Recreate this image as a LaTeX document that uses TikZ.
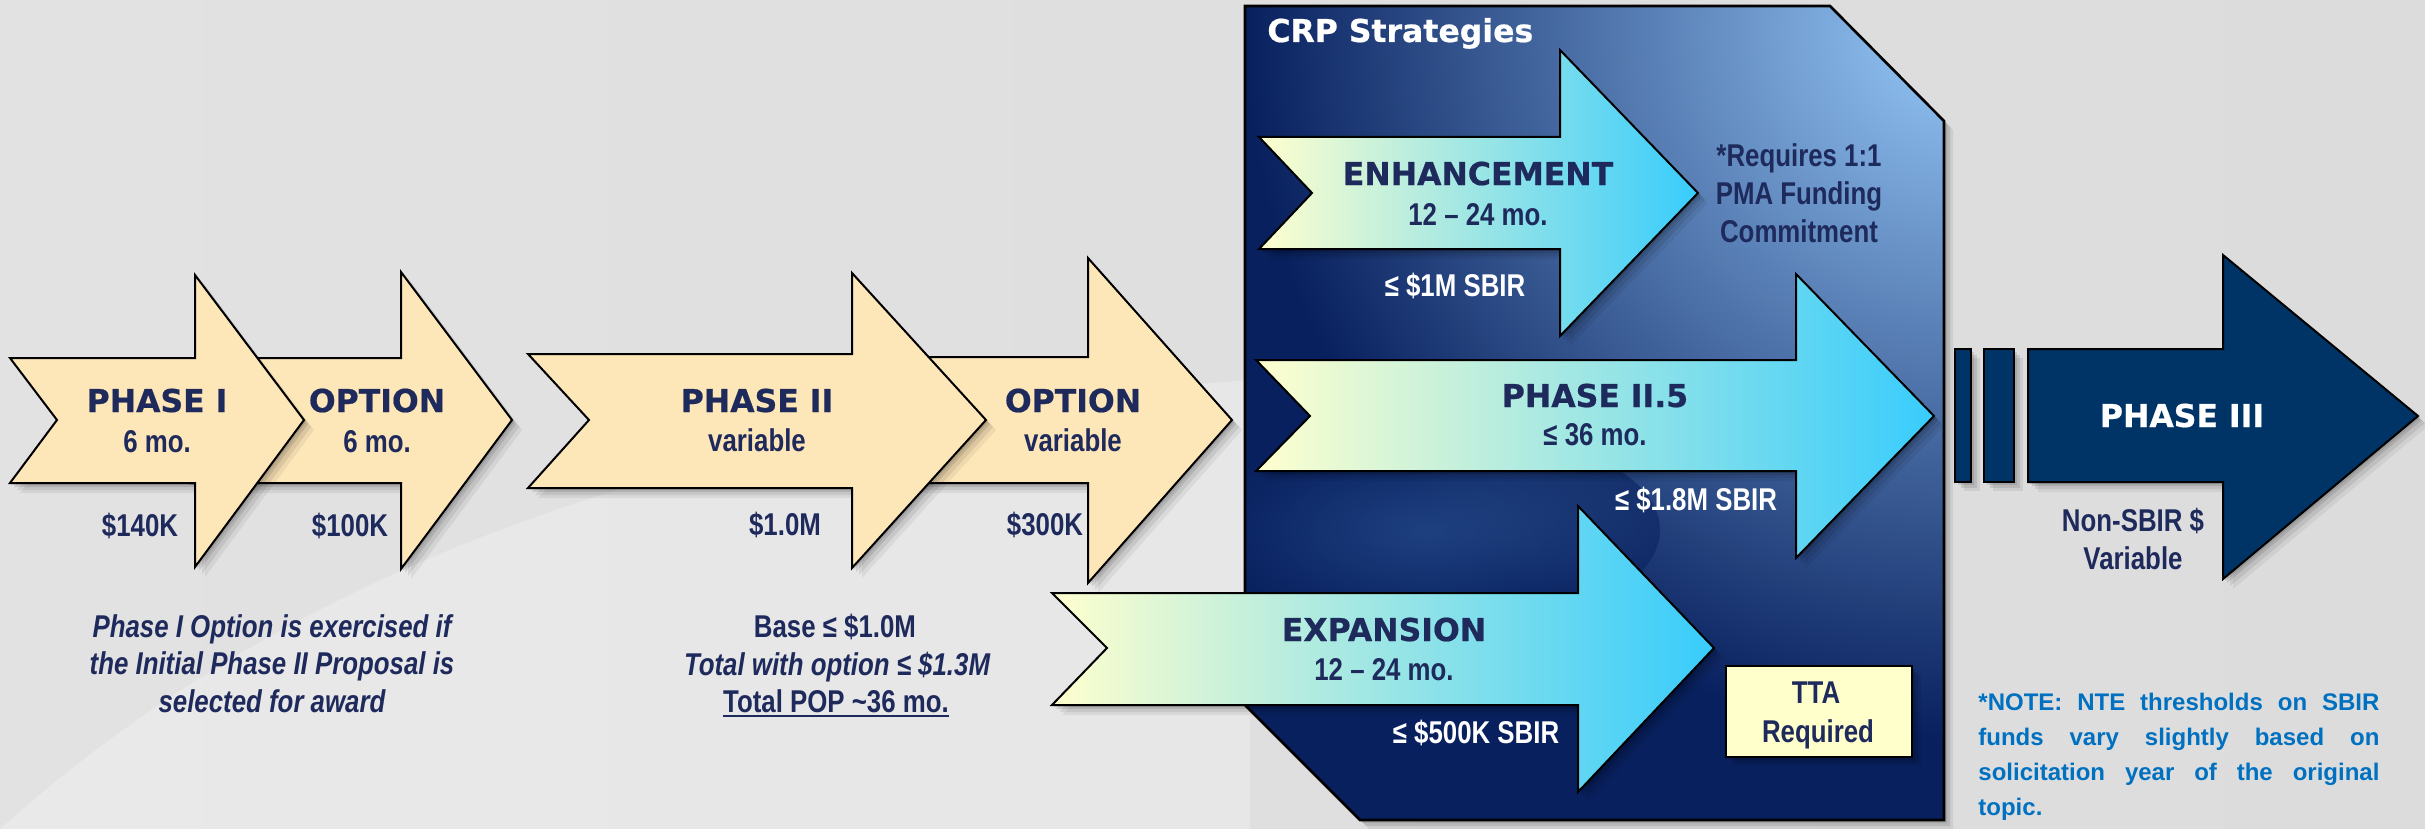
\documentclass[tikz,border=0pt]{standalone}
\usepackage{fontspec}
\setmainfont{Liberation Sans}
\newfontfamily\nfont[FakeStretch=0.82]{Liberation Sans}
\newfontfamily\hfont[FakeBold=0.6]{DejaVu Sans}
\definecolor{navytxt}{RGB}{30,42,92}
\definecolor{tanfill}{RGB}{253,230,184}
\definecolor{boxnavy}{RGB}{8,32,94}
\definecolor{boxlight}{RGB}{150,200,248}
\definecolor{glowc}{RGB}{50,92,156}
\definecolor{pthree}{RGB}{0,51,102}
\definecolor{yel}{RGB}{255,255,206}
\definecolor{cyn}{RGB}{56,204,252}
\definecolor{midg}{RGB}{206,238,230}
\definecolor{notecol}{RGB}{0,112,192}
\definecolor{ttafill}{RGB}{255,255,204}
\definecolor{bgl}{RGB}{226,226,226}
\definecolor{bgm}{RGB}{243,243,243}
\definecolor{bgr}{RGB}{220,220,220}
% arrow outline: L N T B H HT HB X M
\newcommand{\arrp}[9]{(#1,#3) -- (#5,#3) -- (#5,#6) -- (#8,#9) -- (#5,#7) -- (#5,#4) -- (#1,#4) -- (#2,#9) -- cycle}
\newcommand{\shadowarr}[9]{\foreach \s/\o in {2/0.10,4/0.10,7/0.08,10/0.06}{\fill[black,opacity=\o,shift={(\s,\s)}] \arrp{#1}{#2}{#3}{#4}{#5}{#6}{#7}{#8}{#9};}}
\begin{document}
\begin{tikzpicture}[x=0.5pt,y=-0.5pt,
  lab/.style={font=\nfont\bfseries\fontsize{15.75}{18}\selectfont, text=navytxt, anchor=base, inner sep=0pt},
  itl/.style={font=\nfont\bfseries\itshape\fontsize{15.75}{18}\selectfont, text=navytxt, anchor=base, inner sep=0pt},
  head/.style={font=\hfont\bfseries\fontsize{15.75}{18}\selectfont, text=navytxt, anchor=base, inner sep=0pt},
  note/.style={font=\bfseries\fontsize{12}{14}\selectfont, text=notecol, anchor=base west, inner sep=0pt},
  tanarrow/.style={fill=tanfill, draw=black, line width=1pt},
  gradarrow/.style={left color=yel, middle color=midg, right color=cyn, draw=black, line width=1pt},
  darkshape/.style={fill=pthree, draw=black, line width=1pt},
  ttabox/.style={fill=ttafill, draw=black, line width=0.8pt, minimum width=93pt, minimum height=45.5pt, inner sep=0pt}
]
\useasboundingbox (0,0) rectangle (2425,829);
% background
\shade[left color=bgl, middle color=bgm, right color=bgr] (0,0) rectangle (2425,829);
\fill[white, opacity=0.25] (0,829) .. controls (300,560) and (700,420) .. (1250,380) -- (1250,829) -- cycle;

% Phase I option and Phase I
\shadowarr{190}{190}{358}{483}{401}{272}{569}{512}{420}
\filldraw[tanarrow] \arrp{190}{190}{358}{483}{401}{272}{569}{512}{420};
\shadowarr{10}{57}{358}{483}{195}{275}{567}{304}{420}
\filldraw[tanarrow] \arrp{10}{57}{358}{483}{195}{275}{567}{304}{420};

% Phase II option and Phase II
\shadowarr{850}{850}{357}{483}{1088}{258}{583}{1232}{420}
\filldraw[tanarrow] \arrp{850}{850}{357}{483}{1088}{258}{583}{1232}{420};
\shadowarr{528}{589}{354}{488}{852}{273}{568}{986}{420}
\filldraw[tanarrow] \arrp{528}{589}{354}{488}{852}{273}{568}{986}{420};

% CRP box
\foreach \s/\o in {3/0.10,6/0.10,9/0.07}{
  \fill[black,opacity=\o,shift={(\s,\s)}] (1245,6) -- (1830,6) -- (1944,121) -- (1944,820) -- (1360,820) -- (1245,705) -- cycle;}
\begin{scope}
  \clip (1245,6) -- (1830,6) -- (1944,121) -- (1944,820) -- (1360,820) -- (1245,705) -- cycle;
  \fill[boxnavy] (1240,0) rectangle (1950,829);
  \shade[inner color=boxlight, outer color=boxnavy] (1955,30) circle (710);
  \shade[inner color=glowc, outer color=boxnavy, opacity=0.55] (1430,530) ellipse (230 and 105);
\end{scope}
\draw[black, line width=1.3pt] (1245,6) -- (1830,6) -- (1944,121) -- (1944,820) -- (1360,820) -- (1245,705) -- cycle;

% CRP arrows
\shadowarr{1259}{1312}{137}{249}{1560}{50}{336}{1698}{193}
\shadedraw[gradarrow] \arrp{1259}{1312}{137}{249}{1560}{50}{336}{1698}{193};
\shadowarr{1256}{1310}{360}{471}{1796}{274}{558}{1934}{416}
\shadedraw[gradarrow] \arrp{1256}{1310}{360}{471}{1796}{274}{558}{1934}{416};
\shadowarr{1052}{1107}{593}{705}{1578}{506}{792}{1714}{648}
\shadedraw[gradarrow] \arrp{1052}{1107}{593}{705}{1578}{506}{792}{1714}{648};

% TTA box
\foreach \s/\o in {3/0.12,6/0.10,9/0.07}{
  \fill[black,opacity=\o,shift={(\s,\s)}] (1726,666) rectangle (1912,757);}
\node[ttabox] (tta) at (1819,711.5) {};

% Phase III
\foreach \s/\o in {3/0.10,6/0.10,9/0.07}{
  \fill[black,opacity=\o,shift={(\s,\s)}] (1955,349) rectangle (1971,482);
  \fill[black,opacity=\o,shift={(\s,\s)}] (1984,349) rectangle (2014,482);}
\shadowarr{2028}{2028}{349}{482}{2223}{255}{579}{2418}{416}
\filldraw[darkshape] (1955,349) rectangle (1971,482);
\filldraw[darkshape] (1984,349) rectangle (2014,482);
\filldraw[darkshape] \arrp{2028}{2028}{349}{482}{2223}{255}{579}{2418}{416};

% texts
\node[head] (p1) at (157,412) {PHASE I};
\node[lab] (p1d) at (157,452) {6 mo.};
\node[head] (o1) at (377,412) {OPTION};
\node[lab] (o1d) at (377,452) {6 mo.};
\node[lab] (p1c) at (140,536) {\$140K};
\node[lab] (o1c) at (350,536) {\$100K};
\node[itl] (n1) at (272,637) {Phase I Option is exercised if};
\node[itl] (n2) at (272,674.5) {the Initial Phase II Proposal is};
\node[itl] (n3) at (272,712) {selected for award};

\node[head] (p2) at (757,412) {PHASE II};
\node[lab] (p2d) at (757,451) {variable};
\node[head] (o2) at (1073,412) {OPTION};
\node[lab] (o2d) at (1073,451) {variable};
\node[lab] (p2c) at (785,535) {\$1.0M};
\node[lab] (o2c) at (1045,535) {\$300K};
\node[lab] (b1) at (835,637) {Base ≤ \$1.0M};
\node[itl] (b2) at (837,675) {Total with option ≤ \$1.3M};
\node[lab] (b3) at (836,712) {Total POP \textasciitilde36 mo.};
\draw[navytxt, line width=1pt] ([yshift=-2pt]b3.base west) -- ([yshift=-2pt]b3.base east);

\node[head, text=white, anchor=base west] (crp) at (1267,42) {CRP Strategies};
\node[head] (en) at (1478,185) {ENHANCEMENT};
\node[lab] (end) at (1478,225) {12 – 24 mo.};
\node[lab, text=white] (enc) at (1455,296) {≤ \$1M SBIR};
\node[lab] (r1) at (1799,166) {*Requires 1:1};
\node[lab] (r2) at (1799,204) {PMA Funding};
\node[lab] (r3) at (1799,242) {Commitment};
\node[head] (p25) at (1595,407) {PHASE II.5};
\node[lab] (p25d) at (1595,445) {≤ 36 mo.};
\node[lab, text=white] (p25c) at (1696,510) {≤ \$1.8M SBIR};
\node[head] (ex) at (1384,641) {EXPANSION};
\node[lab] (exd) at (1384,680) {12 – 24 mo.};
\node[lab, text=white] (exc) at (1476,743) {≤ \$500K SBIR};
\node[lab] (tta1) at (1816,703) {TTA};
\node[lab] (tta2) at (1818,742) {Required};

\node[head, text=white] (p3) at (2182,427) {PHASE III};
\node[lab] (p3a) at (2133,531) {Non-SBIR \$};
\node[lab] (p3b) at (2133,569) {Variable};

\node[note] (note1) at (1978,710) {\makebox[200.5pt][s]{*NOTE: NTE thresholds on SBIR}};
\node[note] (note2) at (1978,745) {\makebox[200.5pt][s]{funds vary slightly based on}};
\node[note] (note3) at (1978,780) {\makebox[200.5pt][s]{solicitation year of the original}};
\node[note] (note4) at (1978,815) {topic.};
\end{tikzpicture}
\end{document}
